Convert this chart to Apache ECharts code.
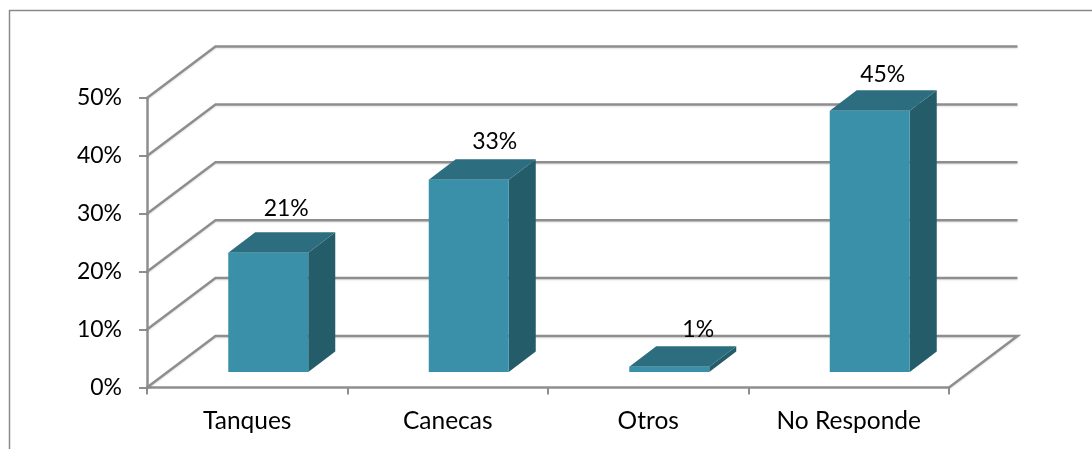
<!DOCTYPE html>
<html>
<head>
<meta charset="utf-8">
<style>html,body{margin:0;padding:0;background:#fff}#c{width:1092px;height:449px}</style>
<script src="https://cdn.jsdelivr.net/npm/echarts@6/dist/echarts.min.js"></script>
</head>
<body>
<div id="c"></div>
<script>
const categories = ['Tanques', 'Canecas', 'Otros', 'No Responde'];
const values = [20.6, 33.2, 0.9, 45.1];
const valueLabels = ['21%', '33%', '1%', '45%'];
const yTicks = [0, 10, 20, 30, 40, 50];

// Oblique projection and hand-placed label nudges (presentation only)
const WALL_DX = 68.5, WALL_DY = 51.5;
const BAR_DX = 21, BAR_DY = 15.5, BAR_W = 80, BAR_DEPTH_X = 27, BAR_DEPTH_Y = 20.5;
const LABEL_NUDGE = [[18, -44.5], [26, -38.5], [29, -37.5], [13, -36.5]];
const FONT = 'Lato, "Open Sans", sans-serif';
const GRID_COLOR = '#8e8e8e';

const chart = echarts.init(document.getElementById('c'), null, {renderer: 'canvas'});

function renderWall(params, api) {
  const cs = params.coordSys;
  const y = api.coord([0, api.value(0)])[1];
  const left = cs.x, right = cs.x + cs.width;
  const style = {stroke: GRID_COLOR, lineWidth: 2.5, fill: null, shadowBlur: 2, shadowColor: 'rgba(0,0,0,0.12)', shadowOffsetY: 1};
  const pts = api.value(0) === 0
    ? [[left, y], [left + WALL_DX, y - WALL_DY], [right + WALL_DX, y - WALL_DY], [right, y]]
    : [[left, y], [left + WALL_DX, y - WALL_DY], [right + WALL_DX, y - WALL_DY]];
  return {type: 'polyline', shape: {points: pts}, style: style, silent: true};
}

function renderBar(params, api) {
  const idx = api.value(0);
  const top = api.coord([idx, api.value(1)]);
  const base = api.coord([idx, 0]);
  const x0 = top[0] + BAR_DX - BAR_W / 2;
  const x1 = x0 + BAR_W;
  const yt = top[1] - BAR_DY;
  const yb = base[1] - BAR_DY;
  const dx = BAR_DEPTH_X, dy = BAR_DEPTH_Y;
  const nudge = LABEL_NUDGE[idx];
  return {
    type: 'group',
    children: [
      {type: 'polygon', shape: {points: [[x1, yt], [x1 + dx, yt - dy], [x1 + dx, yb - dy], [x1, yb]]},
       style: {fill: '#245c69'}},
      {type: 'polygon', shape: {points: [[x0, yt], [x0 + dx, yt - dy], [x1 + dx, yt - dy], [x1, yt]]},
       style: {fill: '#2c6e80'}},
      {type: 'rect', shape: {x: x0, y: yt, width: BAR_W, height: yb - yt},
       style: {fill: '#3b90a9'}},
      {type: 'text', x: top[0] + BAR_DX + nudge[0], y: top[1] - BAR_DY + nudge[1],
       style: {text: valueLabels[idx], font: '23px ' + FONT, fill: '#000', align: 'center', verticalAlign: 'middle'}}
    ]
  };
}

chart.setOption({
  animation: false,
  backgroundColor: '#fff',
  grid: {left: 147, right: 143, top: 98, bottom: 61.5},
  xAxis: {
    type: 'category',
    data: categories,
    boundaryGap: true,
    axisLine: {lineStyle: {color: GRID_COLOR, width: 2.5}},
    axisTick: {show: true, alignWithLabel: false, length: 7, lineStyle: {color: GRID_COLOR, width: 2}},
    axisLabel: {color: '#000', fontFamily: FONT, fontSize: 24.5, margin: 21, interval: 0},
    splitLine: {show: false}
  },
  yAxis: {
    type: 'value',
    min: 0,
    max: 50,
    interval: 10,
    axisLine: {show: true, lineStyle: {color: GRID_COLOR, width: 2.5}},
    axisTick: {show: true, length: 8, lineStyle: {color: GRID_COLOR, width: 2}},
    axisLabel: {color: '#000', fontFamily: FONT, fontSize: 23, margin: 25, padding: [4, 0, 0, 0], formatter: '{value}%'},
    splitLine: {show: false}
  },
  series: [
    {type: 'custom', clip: false, silent: true, z: 1, renderItem: renderWall,
     data: yTicks.map(v => [v]), encode: {y: 0}},
    {type: 'custom', clip: false, silent: true, z: 3, renderItem: renderBar,
     data: values.map((v, i) => [i, v]), encode: {x: 0, y: 1}}
  ],
  graphic: [
    {type: 'polyline', z: 0, silent: true,
     shape: {points: [[9.5, 449], [9.5, 10.5], [1092, 10.5]]},
     style: {stroke: '#8a8a8a', lineWidth: 1.5, fill: null}}
  ]
});
</script>
</body>
</html>
